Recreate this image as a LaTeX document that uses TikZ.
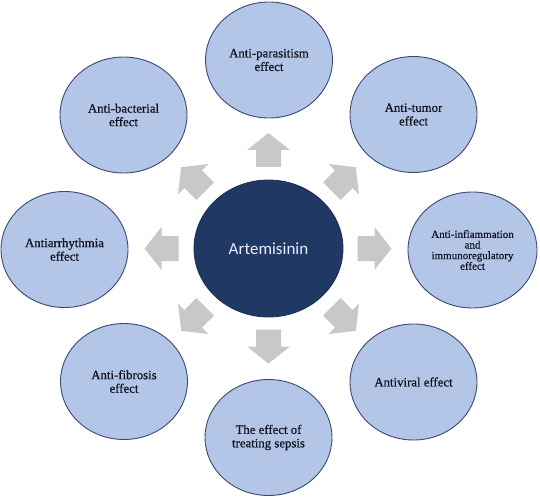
\documentclass[tikz,border=0pt]{standalone}
\usepackage{fontspec}
\setmainfont{Liberation Serif}
\newfontfamily\serifface{Liberation Serif}[FakeBold=0.6]
\newfontfamily\carlito{Carlito}
\usetikzlibrary{shapes.geometric}
\definecolor{effectfill}{HTML}{B4C6E7}
\definecolor{effectline}{HTML}{3B4873}
\definecolor{coreblue}{HTML}{203864}
\definecolor{arrowgray}{HTML}{C8C8C8}
\definecolor{labeltext}{HTML}{10131F}
\tikzset{
  effect/.style={ellipse, draw=effectline, fill=effectfill, line width=0.9pt,
    minimum width=127pt, minimum height=116pt, inner sep=0pt, align=center,
    text=labeltext, font=\serifface\fontsize{12.8pt}{13.5pt}\selectfont},
  core/.style={ellipse, draw=coreblue!85!black, fill=coreblue, line width=0.8pt,
    minimum width=149pt, minimum height=137pt, inner sep=0pt,
    text=white!92!blue, font=\carlito\fontsize{17pt}{20pt}\selectfont},
  pics/blockarr/.style={code={
    \fill[arrowgray] (17,0) -- (0,21.5) -- (0,12.5) -- (-17,12.5)
      -- (-17,-12.5) -- (0,-12.5) -- (0,-21.5) -- cycle;}}
}
\begin{document}
\begin{tikzpicture}[x=1pt,y=-1pt]
\useasboundingbox (0,0) rectangle (540,497);
\node[core] (c) at (268.5,248.5) {Artemisinin};
\node[effect] (par) at (269,60) {Anti-parasitism\\effect};
\node[effect] (tum) at (413.5,114.5) {Anti-tumor\\effect};
\node[effect, minimum width=129pt, font=\serifface\fontsize{11pt}{10.6pt}\selectfont] (inf) at (472.5,250) {Anti-inflammation\\and\\immunoregulatory\\effect};
\node[effect] (vir) at (413.5,382) {Antiviral effect};
\node[effect] (sep) at (268.5,437.5) {The effect of\\treating sepsis};
\node[effect] (fib) at (124,381.5) {Anti-fibrosis\\effect};
\node[effect] (arr) at (64.5,249.5) {Antiarrhythmia\\effect};
\node[effect] (bac) at (123.5,115) {Anti-bacterial\\effect};
\pic[rotate=90] at ([shift={(0,-98.5)}]c.center) {blockarr};
\pic[rotate=45] at ([shift={(75.3,-69.3)}]c.center) {blockarr};
\pic[rotate=0] at ([shift={(106,0)}]c.center) {blockarr};
\pic[rotate=-45] at ([shift={(75.3,70.3)}]c.center) {blockarr};
\pic[rotate=-90] at ([shift={(0,98)}]c.center) {blockarr};
\pic[rotate=-135] at ([shift={(-75.3,70.3)}]c.center) {blockarr};
\pic[rotate=180] at ([shift={(-107,0)}]c.center) {blockarr};
\pic[rotate=135] at ([shift={(-75.3,-69.3)}]c.center) {blockarr};
\end{tikzpicture}
\end{document}
